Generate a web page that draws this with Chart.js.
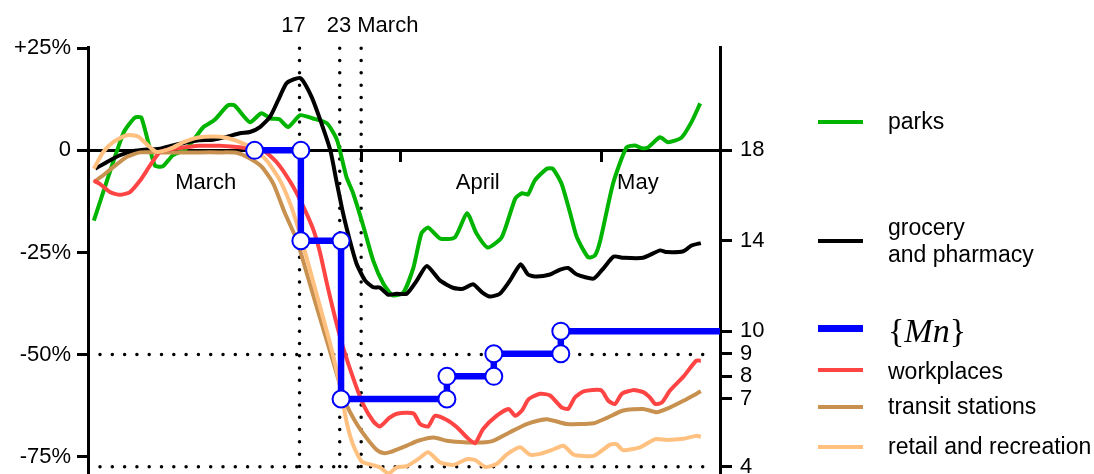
<!DOCTYPE html>
<html>
<head>
<meta charset="utf-8">
<script src="https://cdn.jsdelivr.net/npm/chart.js@4.4.0/dist/chart.umd.min.js"></script>
<style>
  html, body { margin: 0; padding: 0; background: #fff; }
  #wrap { position: relative; width: 1094px; height: 474px; overflow: hidden; }
  #wrap canvas { position: absolute; left: 0; top: 0; }
  .key { position: absolute; left: 818px; width: 45px; height: 4px; }
  .lab { position: absolute; left: 888px; font-family: 'Liberation Sans', Arial, sans-serif; font-size: 23px; line-height: 27px; color: #000; white-space: nowrap; }
  .mn { font-family: 'Liberation Serif', 'Times New Roman', serif; font-size: 34px; line-height: 40px; }
</style>
</head>
<body>
<div id="wrap">
  <!-- canvas is a bit taller than the page: the plot runs off the bottom edge like the original -->
  <canvas id="myChart" width="1094" height="486"></canvas>

  <div class="key" style="top:120px; background:#00b400;"></div>
  <div class="lab" style="top:108px;">parks</div>

  <div class="key" style="top:239px; background:#000;"></div>
  <div class="lab" style="top:214px;">grocery<br>and pharmacy</div>

  <div class="key" style="top:325px; height:7px; background:#0000ff;"></div>
  <div class="lab mn" style="top:311px;">{<i>Mn</i>}</div>

  <div class="key" style="top:368px; background:#ff4444;"></div>
  <div class="lab" style="top:358px;">workplaces</div>

  <div class="key" style="top:405px; background:#c8914f;"></div>
  <div class="lab" style="top:393px;">transit stations</div>

  <div class="key" style="top:445px; background:#ffc080;"></div>
  <div class="lab" style="top:433px;">retail and recreation</div>
</div>

<script>
// day 0 = 15 February

// parks
const parksDays = [0.3, 4.7, 6.4, 7.4, 9.4, 10.6, 12.1, 13.9, 14.8, 16.6, 18.3, 20.3, 21.3, 23.6, 25.3, 26.7, 28.0, 29.3, 31.1, 33.0, 35.1, 36.6, 38.0, 39.0, 40.5, 42.0, 43.5, 44.9, 46.5, 48.0, 49.2, 50.2, 52.0, 54.2, 56.0, 57.4, 59.1, 61.2, 63.2, 64.2, 65.1, 66.1, 67.9, 68.8, 70.1, 71.4, 72.4, 74.1, 75.1, 75.9, 77.8, 79.8, 81.1, 82.1, 83.0, 84.8, 86.0, 88.0, 89.5, 90.8];
const parksValues = [-17.2, 4.2, 8.0, 8.0, -3.7, -3.9, -1.2, 0.2, 1.7, 5.6, 7.4, 11.0, 11.0, 6.9, 9.1, 7.8, 7.6, 5.7, 8.6, 7.8, 6.6, 2.5, -6.5, -10.5, -18.4, -27.0, -32.6, -35.5, -34.8, -28.7, -20.3, -18.9, -21.6, -21.3, -15.4, -20.3, -23.8, -21.2, -11.8, -10.5, -10.8, -7.4, -4.5, -4.5, -8.1, -15.4, -21.3, -26.2, -25.7, -22.0, -8.1, 0.7, 1.2, 0.5, 0.7, 3.2, 2.0, 3.1, 6.9, 11.5];

// grocery and pharmacy
const groceryDays = [0.5, 2.2, 4.2, 6.1, 8.2, 10.2, 12.1, 14.2, 16.1, 18.1, 20.1, 22.1, 23.6, 25.1, 26.6, 28.1, 29.1, 31.1, 32.8, 34.3, 35.6, 36.5, 37.5, 38.5, 39.5, 40.8, 42.0, 43.0, 44.2, 45.5, 47.0, 48.5, 50.0, 52.0, 54.0, 55.4, 56.9, 58.2, 59.4, 60.9, 62.4, 64.0, 65.1, 66.4, 68.4, 69.9, 71.1, 72.4, 74.9, 76.3, 77.9, 79.3, 82.3, 84.8, 85.8, 88.3, 89.5, 90.9];
const groceryValues = [-4.5, -2.9, -1.2, -0.2, 0.2, 0.4, 1.2, 2.0, 2.5, 2.6, 3.3, 4.2, 4.5, 5.7, 8.2, 13.3, 16.5, 17.7, 13.1, 6.5, 0, -7.4, -15.4, -22.0, -27.7, -31.9, -33.5, -33.6, -35.3, -35.1, -35.1, -31.9, -28.3, -31.9, -33.7, -33.9, -32.8, -34.7, -35.8, -35.1, -31.9, -27.9, -30.4, -30.9, -30.4, -29.2, -28.8, -30.4, -31.4, -29.0, -26.0, -26.3, -26.3, -24.5, -24.9, -24.7, -23.3, -22.7];

// workplaces
const workDays = [0.3, 1.2, 2.7, 4.2, 5.7, 7.2, 8.7, 10.2, 12.2, 14.2, 16.1, 19.1, 21.6, 24.1, 25.6, 27.6, 29.8, 31.6, 33.1, 34.1, 35.1, 36.3, 37.5, 39.0, 40.5, 42.0, 43.0, 44.4, 45.7, 48.0, 49.0, 50.2, 51.2, 53.0, 54.5, 56.0, 57.2, 58.4, 60.4, 62.2, 63.2, 64.2, 65.2, 66.9, 68.4, 70.1, 71.1, 72.1, 73.4, 76.0, 77.1, 78.1, 79.1, 80.8, 82.3, 83.3, 84.1, 85.1, 86.3, 88.3, 90.2, 90.9];
const workValues = [-7.4, -8.2, -10.2, -10.9, -10.2, -7.4, -3.7, -0.4, 0.4, 0.8, 1.1, 1.1, 0.8, 0.4, 0, -2.9, -8.2, -13.9, -19.6, -25.3, -32.7, -40.9, -48.2, -55.7, -62.2, -66.3, -67.6, -65.5, -64.4, -64.4, -67.0, -67.6, -65.0, -66.0, -67.8, -70.3, -71.7, -68.2, -65.0, -63.3, -65.0, -63.7, -60.9, -59.6, -60.0, -62.9, -63.3, -60.5, -59.0, -58.7, -61.3, -62.1, -59.6, -58.7, -59.2, -60.5, -62.1, -61.7, -58.8, -55.4, -51.5, -51.5];

// transit stations
const transitDays = [0.3, 1.7, 3.2, 5.2, 7.2, 9.7, 13.2, 16.1, 19.1, 21.6, 23.6, 25.4, 27.1, 28.8, 30.6, 32.1, 33.6, 35.1, 36.6, 37.8, 39.3, 41.0, 42.5, 43.5, 44.5, 47.0, 48.7, 51.0, 53.0, 56.0, 58.2, 59.9, 62.4, 64.9, 67.9, 70.9, 74.9, 76.9, 79.3, 82.3, 84.3, 85.8, 88.3, 90.9];
const transitValues = [-7.8, -6.1, -4.1, -1.6, -0.5, -0.5, -0.5, -0.5, -0.5, -0.6, -2.0, -4.1, -8.2, -15.3, -22.0, -30.2, -38.5, -46.7, -54.9, -61.4, -66.3, -70.4, -73.3, -74.1, -73.9, -72.3, -71.1, -70.3, -71.1, -71.5, -71.5, -71.1, -69.0, -67.0, -65.8, -67.0, -66.8, -65.5, -63.7, -63.3, -64.1, -63.3, -61.3, -59.0];

// retail and recreation
const retailDays = [0.3, 1.7, 3.2, 5.2, 6.9, 8.4, 9.7, 11.7, 13.7, 15.7, 18.1, 20.1, 22.1, 24.1, 26.1, 28.1, 29.8, 31.2, 32.6, 34.1, 35.6, 37.0, 38.0, 39.0, 40.3, 41.8, 43.0, 44.3, 45.5, 47.0, 48.7, 50.2, 52.0, 54.0, 56.0, 57.2, 58.7, 60.4, 61.9, 63.9, 65.4, 66.9, 68.6, 70.4, 71.9, 74.9, 77.3, 78.3, 79.3, 81.8, 84.1, 85.8, 88.3, 90.2, 90.9];
const retailValues = [-4.5, -0.4, 2.0, 3.7, 3.4, 1.2, -0.4, 0.4, 2.0, 3.1, 3.4, 3.1, 2.0, 0.4, -2.5, -7.4, -13.9, -21.3, -29.5, -38.5, -47.5, -57.3, -66.3, -72.1, -76.2, -77.0, -77.6, -79.1, -77.6, -77.3, -75.6, -73.9, -76.4, -77.0, -75.6, -75.8, -77.5, -76.8, -74.5, -72.7, -74.5, -74.3, -73.4, -72.3, -74.5, -74.8, -72.1, -71.9, -73.4, -72.7, -70.7, -70.9, -70.6, -69.9, -70.1];

// {Mn}, right axis (last point runs to the right edge)
const mnDays = [24.3, 31.2, 31.2, 37.2, 37.2, 53.0, 53.0, 60.0, 60.0, 70.0, 70.0, 93.76];
const mnValues = [18, 18, 14, 14, 7, 7, 8, 8, 9, 9, 10, 10];

// axes
const xMin = -0.57, xMax = 93.76;
const xTickDays = [17, 40.2, 46, 57.6, 76, 81.5];
const xTickLabels = ['March', '', '', 'April', '', 'May'];
const leftTicks = [25, 0, -25, -50, -75];
const leftTickLabels = ['+25%', '0', '-25%', '-50%', '-75%'];
const rightTicks = [18, 14, 10, 9, 8, 7, 4];

const eventDays = [31, 37, 40.2];
const eventLabels = ['17', '23 March', ''];

Chart.defaults.font.family = "'Liberation Sans', Arial, sans-serif";
Chart.defaults.font.size = 22;
Chart.defaults.color = '#000';

function series(label, days, vals, color) {
    return {
        label: label,
        data: days.map((d, i) => ({x: d, y: vals[i]})),
        yAxisID: 'y',
        borderColor: color,
        borderWidth: 4,
        pointRadius: 0,
        tension: 0.2,
        fill: false
    };
}

const guides = {
    id: 'guides',
    beforeDatasetsDraw(chart) {
        const {ctx, chartArea, scales} = chart;
        ctx.save();
        ctx.strokeStyle = '#000';
        ctx.lineWidth = 3.5;
        ctx.lineCap = 'round';
        ctx.setLineDash([0, 12.3]);
        const top = scales.y.getPixelForValue(25);
        eventDays.forEach(function(d){
            const x = scales.x.getPixelForValue(d);
            ctx.beginPath();
            ctx.moveTo(x, top);
            ctx.lineTo(x, chartArea.bottom);
            ctx.stroke();
        });
        [scales.y.getPixelForValue(-50), scales.y2.getPixelForValue(4)].forEach(function(y){
            ctx.beginPath();
            ctx.moveTo(chartArea.left + 12, y);
            ctx.lineTo(chartArea.right - 8, y);
            ctx.stroke();
        });
        ctx.restore();
    },
    afterDraw(chart) {
        const {ctx, scales} = chart;
        ctx.save();
        ctx.fillStyle = '#000';
        ctx.font = "22px 'Liberation Sans', Arial, sans-serif";
        ctx.textBaseline = 'alphabetic';
        // "17" sits a bit left of its line, "23 March" starts just left of its line
        ctx.textAlign = 'center';
        ctx.fillText(eventLabels[0], scales.x.getPixelForValue(eventDays[0]) - 6, 32);
        ctx.textAlign = 'left';
        ctx.fillText(eventLabels[1], scales.x.getPixelForValue(eventDays[1]) - 13, 32);
        ctx.restore();
    }
};

const ctx = document.getElementById('myChart').getContext('2d');
const myChart = new Chart(ctx, {
    type: 'line',
    data: {
        datasets: [
            {
                label: '{Mn}',
                data: mnDays.map((d, i) => ({x: d, y: mnValues[i]})),
                yAxisID: 'y2',
                borderColor: '#0000ff',
                borderWidth: 6.5,
                tension: 0,
                pointRadius: c => c.dataIndex < mnDays.length - 1 ? 8.5 : 0,
                pointBackgroundColor: '#fff',
                pointBorderColor: '#0000ff',
                pointBorderWidth: 2,
                fill: false
            },
            series('retail and recreation', retailDays, retailValues, '#ffc080'),
            series('workplaces', workDays, workValues, '#ff4444'),
            series('transit stations', transitDays, transitValues, '#c8914f'),
            series('grocery and pharmacy', groceryDays, groceryValues, '#000000'),
            series('parks', parksDays, parksValues, '#00b400')
        ]
    },
    options: {
        responsive: false,
        animation: false,
        events: [],
        layout: { padding: { top: 47, right: 314, left: 0, bottom: 0 } },
        plugins: { legend: { display: false }, tooltip: { enabled: false } },
        scales: {
            x: {
                type: 'linear',
                position: {y: 0},
                min: xMin,
                max: xMax,
                afterBuildTicks: a => { a.ticks = xTickDays.map(v => ({value: v})); },
                afterFit: a => { a.paddingLeft = 0; a.paddingRight = 0; },
                ticks: {
                    autoSkip: false, maxRotation: 0, minRotation: 0, padding: 9,
                    callback: (v, i) => xTickLabels[i]
                },
                grid: {
                    drawOnChartArea: false, drawTicks: true, tickLength: 10, tickWidth: 3,
                    tickColor: c => xTickLabels[c.index] === '' ? '#000' : 'rgba(0,0,0,0)'
                },
                border: { display: true, color: '#000', width: 3 }
            },
            y: {
                position: 'left',
                min: -79.6,
                max: 25.3,
                afterBuildTicks: a => { a.ticks = leftTicks.map(v => ({value: v})); },
                afterFit: a => { a.width = 88; a.paddingTop = 0; a.paddingBottom = 0; },
                ticks: { padding: 6, callback: (v, i) => leftTickLabels[i] },
                grid: { drawOnChartArea: false, tickLength: 11, tickWidth: 3, tickColor: '#000' },
                border: { color: '#000', width: 3 }
            },
            y2: {
                position: 'right',
                min: 3.613,
                max: 22.574,
                afterBuildTicks: a => { a.ticks = rightTicks.map(v => ({value: v})); },
                afterFit: a => { a.width = 60; a.paddingTop = 0; a.paddingBottom = 0; },
                ticks: { padding: 8, callback: v => String(v) },
                grid: { drawOnChartArea: false, tickLength: 12, tickWidth: 3, tickColor: '#000' },
                border: { color: '#000', width: 3 }
            }
        }
    },
    plugins: [guides]
});
</script>
</body>
</html>
